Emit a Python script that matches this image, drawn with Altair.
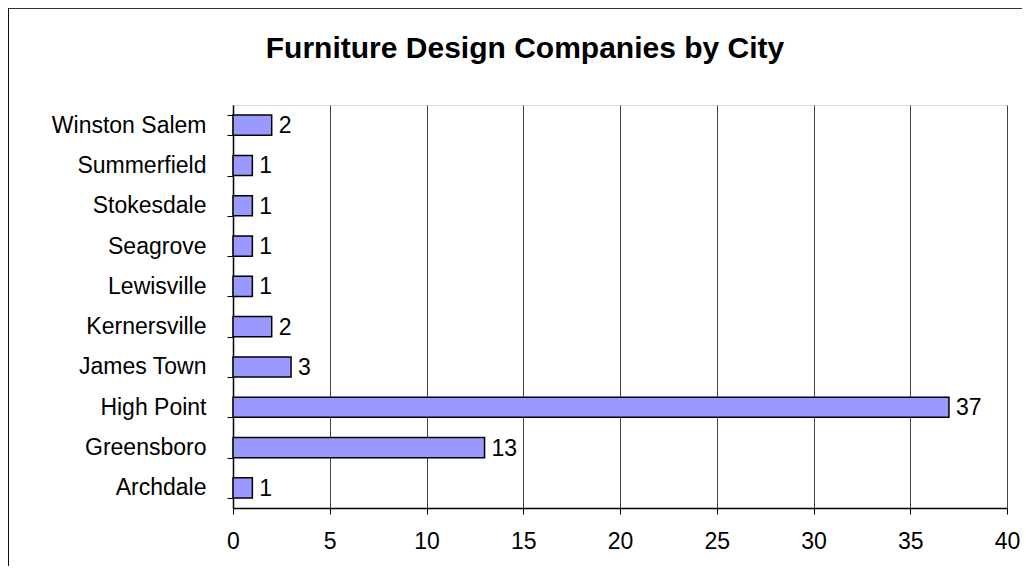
import altair as alt
import pandas as pd

cities = ["Archdale", "Greensboro", "High Point", "James Town", "Kernersville",
          "Lewisville", "Seagrove", "Stokesdale", "Summerfield", "Winston Salem"]
counts = [1, 13, 37, 3, 2, 1, 1, 1, 1, 2]
title_text = "Furniture Design Companies by City"

df = pd.DataFrame({"city": cities, "count": counts})
order = list(reversed(cities))

FONT = "Liberation Sans"

y = alt.Y("city:N", sort=order, title=None,
          scale=alt.Scale(paddingInner=0.5, paddingOuter=0.25),
          axis=alt.Axis(tickBand="extent", grid=False, ticks=True, tickSize=6,
                        tickColor="black", domainColor="black", domainWidth=1.5,
                        labelFont=FONT, labelFontSize=23, labelColor="black",
                        labelPadding=21, labelAlign="right"))
x = alt.X("count:Q", title=None,
          scale=alt.Scale(domain=[0, 40], nice=False),
          axis=alt.Axis(values=[0, 5, 10, 15, 20, 25, 30, 35, 40], grid=True,
                        gridColor="#444444", gridWidth=1, tickSize=6,
                        tickColor="black", domainColor="black", domainWidth=1.5,
                        labelFont=FONT, labelFontSize=23, labelColor="black",
                        labelPadding=16, labelFlush=False))

bars = alt.Chart(df).mark_bar(fill="#9999FF", stroke="black", strokeWidth=1.5).encode(x=x, y=y)
labels = alt.Chart(df).mark_text(align="left", baseline="middle", dx=7, dy=1,
                                 font=FONT, fontSize=23, color="black").encode(
    x="count:Q", y=alt.Y("city:N", sort=order), text="count:Q")

title_df = pd.DataFrame({"t": [title_text]})
title = alt.Chart(title_df).mark_text(font=FONT, fontSize=30, fontWeight="bold",
                                      color="black", align="center",
                                      baseline="alphabetic").encode(
    x=alt.value(292), y=alt.value(-47), text="t:N")

top_border = alt.Chart(df).mark_rule(color="#333333", strokeWidth=2).encode(
    x=alt.value(-225), x2=alt.value(800), y=alt.value(-97))
left_border = alt.Chart(df).mark_rule(color="#111111", strokeWidth=1.5).encode(
    x=alt.value(-225), y=alt.value(-97), y2=alt.value(470))

chart = alt.layer(bars, labels, title, top_border, left_border).properties(
    width=774, height=403,
    padding={"left": 225, "top": 97, "right": 15, "bottom": 58},
    autosize=alt.AutoSizeParams(type="none"),
).configure_view(stroke=None).configure(background="white")

chart.save("out.html", embed_options={"renderer": "svg", "actions": False})
